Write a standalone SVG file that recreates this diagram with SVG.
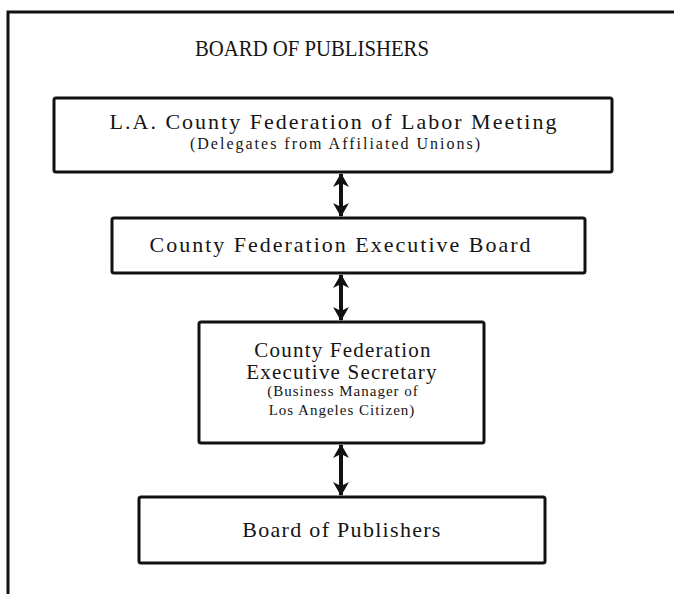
<svg xmlns="http://www.w3.org/2000/svg" width="674" height="594" viewBox="0 0 674 594">
  <style>
    .box { fill: #ffffff; stroke: #111111; stroke-width: 3; }
    .frame { fill: none; stroke: #111111; stroke-width: 3; }
    .t { font-family: "Liberation Serif", "Times New Roman", serif; fill: #151515; text-anchor: middle; }
    .title { font-size: 23px; }
    .big { font-size: 22px; letter-spacing: 2px; }
    .main { font-size: 21px; letter-spacing: 1.2px; }
    .sub { font-size: 15px; letter-spacing: 1px; }
    .sub-wide { font-size: 16px; letter-spacing: 2px; }
    .link { stroke: #111111; stroke-width: 4; fill: none; marker-start: url(#head); marker-end: url(#head); }
  </style>
  <defs>
    <marker id="head" viewBox="0 0 14 16" refX="13" refY="8" markerWidth="14" markerHeight="16" markerUnits="userSpaceOnUse" orient="auto-start-reverse">
      <path d="M0,0 L14,8 L0,16 L4,8 Z" fill="#111111"/>
    </marker>
  </defs>

  <rect width="674" height="594" fill="#ffffff"/>

  <!-- page frame: top rule and left rule -->
  <path class="frame" d="M8,594 L8,12 L674,12"/>

  <text class="t title" x="312" y="56" textLength="234" lengthAdjust="spacingAndGlyphs">BOARD OF PUBLISHERS</text>

  <g id="federation-meeting">
    <rect class="box" x="54" y="98" width="558" height="74" rx="2"/>
    <text class="t big" x="334" y="129">L.A. County Federation of Labor Meeting</text>
    <text class="t sub-wide" x="336" y="149">(Delegates from Affiliated Unions)</text>
  </g>

  <g id="executive-board">
    <rect class="box" x="112" y="218" width="473" height="55" rx="2"/>
    <text class="t big" x="341" y="252">County Federation Executive Board</text>
  </g>

  <g id="executive-secretary">
    <rect class="box" x="199" y="322" width="285" height="121" rx="2"/>
    <text class="t main" x="343" y="357">County Federation</text>
    <text class="t main" x="342" y="379">Executive Secretary</text>
    <text class="t sub" x="343" y="396">(Business Manager of</text>
    <text class="t sub" x="342" y="415">Los Angeles Citizen)</text>
  </g>

  <g id="board-of-publishers">
    <rect class="box" x="139" y="497" width="406" height="66" rx="2"/>
    <text class="t main" style="font-size:22px;letter-spacing:1.3px" x="342" y="537">Board of Publishers</text>
  </g>

  <g id="connectors">
    <line class="link" x1="341" y1="174" x2="341" y2="216"/>
    <line class="link" x1="341" y1="275" x2="341" y2="320"/>
    <line class="link" x1="341" y1="445" x2="341" y2="495"/>
  </g>
</svg>
